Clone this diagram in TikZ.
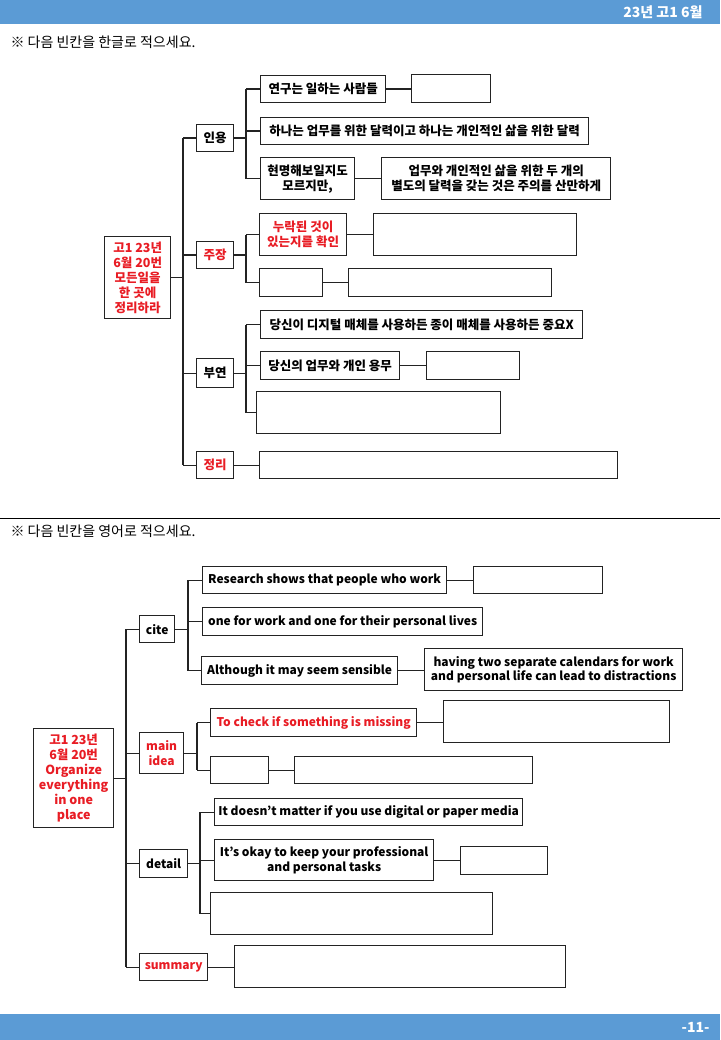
\documentclass[tikz,border=0pt]{standalone}
\usepackage{fontspec}
\setmainfont{Noto Sans CJK KR}
\definecolor{hdrblue}{RGB}{91,155,213}
\definecolor{txtred}{RGB}{232,28,36}
\definecolor{edge}{RGB}{35,35,35}
\tikzset{
  bx/.style={draw=edge, line width=1.3pt, inner sep=0pt, align=center,
    font=\bfseries\fontsize{12.5}{15}\selectfont},
  redt/.style={text=txtred},
  eng/.style={font=\bfseries\fontsize{12}{14.5}\selectfont},
  conn/.style={draw=edge, line width=1.3pt},
}
\newcommand{\bx}[7][]{\node[bx,#1,anchor=north west,minimum width={(#5-#3)*1pt},minimum height={(#6-#4)*1pt}] (#2) at (#3,#4) {#7};}
\begin{document}
\begin{tikzpicture}[x=1pt,y=-1pt]
\useasboundingbox (0,0) rectangle (720,1040);
% header and footer
\fill[hdrblue] (0,0) rectangle (720,24);
\node[anchor=east, text=white, font=\bfseries\fontsize{14}{16}\selectfont] (hdr) at (706,12.5) {23년 고1 6월};
\fill[hdrblue] (0,1014) rectangle (720,1040);
\node[anchor=east, text=white, font=\bfseries\fontsize{14}{16}\selectfont] (ftr) at (713,1027) {-11-};
% instructions
\node[anchor=west, font=\fontsize{14}{16}\selectfont] (ins1) at (7,42) {※ 다음 빈칸을 한글로 적으세요.};
\draw[line width=1pt] (0,518) -- (720,518);
\node[anchor=west, font=\fontsize{14}{16}\selectfont] (ins2) at (7,531) {※ 다음 빈칸을 영어로 적으세요.};

% ===== top (Korean) =====
\bx[redt]{rootA}{104}{236}{170}{318}{고1 23년\\6월 20번\\모든일을\\한 곳에\\정리하라}
\bx{citeA}{196}{124}{233}{151}{인용}
\bx[redt]{claimA}{196}{241}{233}{268}{주장}
\bx{detA}{196}{358}{233}{387}{부연}
\bx[redt]{sumA}{196}{451}{233}{478}{정리}
\bx{a1}{260}{75}{385}{102}{연구는 일하는 사람들}
\bx{a1b}{411}{74}{490}{102}{}
\bx{a2}{260}{117}{588}{144}{하나는 업무를 위한 달력이고 하나는 개인적인 삶을 위한 달력}
\bx{a3}{260}{157}{354}{199}{현명해보일지도\\모르지만,}
\bx{a3b}{381}{157}{610}{199}{업무와 개인적인 삶을 위한 두 개의\\별도의 달력을 갖는 것은 주의를 산만하게}
\bx[redt]{b1}{259}{213}{346}{255}{누락된 것이\\있는지를 확인}
\bx{b1b}{373}{213}{576}{255}{}
\bx{b2}{259}{268}{322}{296}{}
\bx{b2b}{348}{268}{551}{296}{}
\bx{c1}{260}{310}{582}{338}{당신이 디지털 매체를 사용하든 종이 매체를 사용하든 중요X}
\bx{c2}{260}{351}{399}{379}{당신의 업무와 개인 용무}
\bx{c2b}{426}{351}{519}{379}{}
\bx{c3}{256}{391}{500}{433}{}
\bx{d1}{259}{451}{617}{478}{}

\coordinate (spA) at (183,0);
\coordinate (spA1) at (246,0);
\draw[conn] (rootA.east) -- (rootA.east -| spA);
\draw[conn] (spA |- citeA.west) -- (spA |- sumA.west);
\foreach \n in {citeA,claimA,detA,sumA} \draw[conn] (spA |- \n.west) -- (\n.west);
% 인용
\draw[conn] (citeA.east) -- (citeA.east -| spA1);
\draw[conn] (spA1 |- a1.west) -- (spA1 |- a3.west);
\foreach \n in {a1,a2,a3} \draw[conn] (spA1 |- \n.west) -- (\n.west);
\draw[conn] (a1.east) -- (a1.east -| a1b.west);
\draw[conn] (a3.east) -- (a3.east -| a3b.west);
% 주장
\draw[conn] (claimA.east) -- (claimA.east -| spA1);
\draw[conn] (spA1 |- b1.west) -- (spA1 |- b2.west);
\foreach \n in {b1,b2} \draw[conn] (spA1 |- \n.west) -- (\n.west);
\draw[conn] (b1.east) -- (b1.east -| b1b.west);
\draw[conn] (b2.east) -- (b2.east -| b2b.west);
% 부연
\draw[conn] (detA.east) -- (detA.east -| spA1);
\draw[conn] (spA1 |- c1.west) -- (spA1 |- c3.west);
\foreach \n in {c1,c2,c3} \draw[conn] (spA1 |- \n.west) -- (\n.west);
\draw[conn] (c2.east) -- (c2.east -| c2b.west);
% 정리
\draw[conn] (sumA.east) -- (sumA.east -| d1.west);

% ===== bottom (English) =====
\bx[redt]{rootB}{33}{728}{113}{827}{고1 23년\\6월 20번\\Organize\\everything\\in one\\place}
\bx[eng]{citeB}{139}{615}{174}{642}{cite}
\bx[eng,redt]{mainB}{139}{732}{183}{773}{main\\idea}
\bx[eng]{detB}{139}{849}{187}{877}{detail}
\bx[eng,redt]{sumB}{139}{953}{207}{980}{summary}
\bx[eng]{e1}{202}{566}{446}{593}{Research shows that people who work}
\bx{e1b}{473}{566}{602}{593}{}
\bx[eng]{e2}{202}{607}{482}{635}{one for work and one for their personal lives}
\bx[eng]{e3}{201}{656}{397}{684}{Although it may seem sensible}
\bx[eng]{e3b}{424}{648}{682}{690}{having two separate calendars for work\\and personal life can lead to distractions}
\bx[eng,redt]{f1}{210}{708}{416}{736}{To check if something is missing}
\bx{f1b}{443}{700}{669}{742}{}
\bx{f2}{210}{756}{268}{783}{}
\bx{f2b}{294}{756}{532}{783}{}
\bx[eng]{g1}{214}{798}{522}{825}{It doesn't matter if you use digital or paper media}
\bx[eng]{g2}{214}{839}{433}{880}{It's okay to keep your professional\\and personal tasks}
\bx{g2b}{460}{846}{547}{874}{}
\bx{g3}{210}{892}{492}{934}{}
\bx{h1}{234}{945}{565}{987}{}

\coordinate (spB) at (126,0);
\coordinate (spB1) at (188,0);
\coordinate (spB2) at (197,0);
\coordinate (spB3) at (200,0);
\draw[conn] (rootB.east) -- (rootB.east -| spB);
\draw[conn] (spB |- citeB.west) -- (spB |- sumB.west);
\foreach \n in {citeB,mainB,detB,sumB} \draw[conn] (spB |- \n.west) -- (\n.west);
% cite
\draw[conn] (citeB.east) -- (citeB.east -| spB1);
\draw[conn] (spB1 |- e1.west) -- (spB1 |- e3.west);
\foreach \n in {e1,e2,e3} \draw[conn] (spB1 |- \n.west) -- (\n.west);
\draw[conn] (e1.east) -- (e1.east -| e1b.west);
\draw[conn] (e3.east) -- (e3.east -| e3b.west);
% main idea
\draw[conn] (mainB.east) -- (mainB.east -| spB2);
\draw[conn] (spB2 |- f1.west) -- (spB2 |- f2.west);
\foreach \n in {f1,f2} \draw[conn] (spB2 |- \n.west) -- (\n.west);
\draw[conn] (f1.east) -- (f1.east -| f1b.west);
\draw[conn] (f2.east) -- (f2.east -| f2b.west);
% detail
\draw[conn] (detB.east) -- (detB.east -| spB3);
\draw[conn] (spB3 |- g1.west) -- (spB3 |- g3.west);
\foreach \n in {g1,g2,g3} \draw[conn] (spB3 |- \n.west) -- (\n.west);
\draw[conn] (g2.east) -- (g2.east -| g2b.west);
% summary
\draw[conn] (sumB.east) -- (sumB.east -| h1.west);
\end{tikzpicture}
\end{document}
